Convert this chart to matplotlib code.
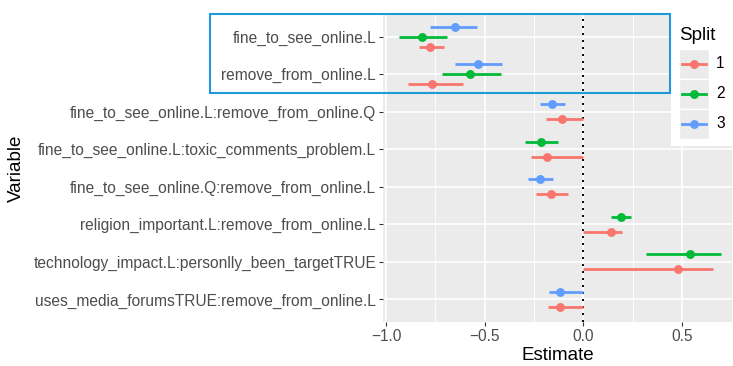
import matplotlib
matplotlib.use("Agg")
import matplotlib.pyplot as plt
from matplotlib.patches import Rectangle
from matplotlib.lines import Line2D
import numpy as np

plt.rcParams['font.family'] = ['Liberation Sans', 'DejaVu Sans']

variables = ["fine_to_see_online.L",
             "remove_from_online.L",
             "fine_to_see_online.L:remove_from_online.Q",
             "fine_to_see_online.L:toxic_comments_problem.L",
             "fine_to_see_online.Q:remove_from_online.L",
             "religion_important.L:remove_from_online.L",
             "technology_impact.L:personlly_been_targetTRUE",
             "uses_media_forumsTRUE:remove_from_online.L"]

splits = ["1", "2", "3"]
colors = {"1": "#F8766D", "2": "#00BA38", "3": "#619CFF"}

# estimate, low, high per variable (None = not present in that split)
est = {"1": [-0.777, -0.768, -0.108, -0.184, -0.162, 0.137, 0.481, -0.117],
       "2": [-0.82, -0.577, None, -0.213, None, 0.191, 0.54, None],
       "3": [-0.65, -0.536, -0.159, None, -0.218, None, None, -0.117]}
low = {"1": [-0.832, -0.887, -0.188, -0.264, -0.239, 0.0, 0.0, -0.181],
       "2": [-0.934, -0.714, None, -0.294, None, 0.137, 0.315, None],
       "3": [-0.777, -0.65, -0.218, None, -0.283, None, None, -0.173]}
high = {"1": [-0.706, -0.61, 0.0, 0.0, -0.078, 0.196, 0.658, 0.0],
        "2": [-0.69, -0.418, None, -0.13, None, 0.242, 0.695, None],
        "3": [-0.54, -0.41, -0.095, None, -0.154, None, None, 0.0]}

W, H = 733, 366
fig = plt.figure(figsize=(W / 100, H / 100), dpi=100)
ax = fig.add_axes([383 / W, 1 - 322 / H, (W - 383) / W, (322 - 14) / H])
ax.set_facecolor("#EBEBEB")
for s in ax.spines.values():
    s.set_visible(False)

n = len(variables)
ypos = np.arange(n)[::-1] + 1.0
dodge = 0.8

ax.set_xlim(-1.015, 0.757)
ax.set_ylim(0.4, n + 0.6)

# grid
for x in [-0.75, -0.25, 0.25, 0.75]:
    ax.axvline(x, color="white", lw=0.6, zorder=0)
for x in [-1.0, -0.5, 0.0, 0.5]:
    ax.axvline(x, color="white", lw=1.2, zorder=0)
for y in ypos:
    ax.axhline(y, color="white", lw=1.2, zorder=0)

ax.axvline(0, color="black", lw=1.4, ls=(0, (1, 2.6)), zorder=1)

for i, var in enumerate(variables):
    present = [s for s in splits if est[s][i] is not None]
    k = len(present)
    for j, s in enumerate(present):
        off = (j - (k - 1) / 2) * dodge / k
        y = ypos[i] + off
        ax.plot([low[s][i], high[s][i]], [y, y], color=colors[s], lw=2.0,
                solid_capstyle="butt", zorder=2)
        ax.plot(est[s][i], y, "o", color=colors[s], ms=6.4, mec="none", zorder=3)

ax.set_yticks(ypos)
ax.set_yticklabels(variables, fontsize=11.2, color="#4D4D4D")
ax.set_xticks([-1.0, -0.5, 0.0, 0.5])
ax.set_xticklabels(["\u22121.0", "\u22120.5", "0.0", "0.5"], fontsize=11.2, color="#4D4D4D")
ax.tick_params(length=3, color="#333333", width=0.8, pad=2)
ax.set_xlabel("Estimate", fontsize=13.5, labelpad=2)
ax.set_ylabel("Variable", fontsize=13.5, labelpad=6)

def fx(x):
    return x / W

def fy(y):
    return 1 - y / H

# highlight box
fig.patches.append(Rectangle((fx(210), fy(93)), fx(670) - fx(210), fy(14) - fy(93),
                             transform=fig.transFigure, fill=False,
                             edgecolor="#1F9AD6", lw=1.5, zorder=10))

# legend drawn over the panel corner
fig.patches.append(Rectangle((fx(671), fy(146)), fx(W) - fx(671), fy(0) - fy(146),
                             transform=fig.transFigure, facecolor="white",
                             edgecolor="none", zorder=5))
fig.text(fx(679), fy(36), "Split", fontsize=13.5, va="center", ha="left", zorder=11)
for j, s in enumerate(splits):
    yc = 64 + j * 30
    fig.patches.append(Rectangle((fx(679), fy(yc + 15)), fx(709) - fx(679), fy(yc - 15) - fy(yc + 15),
                                 transform=fig.transFigure, facecolor="#EBEBEB",
                                 edgecolor="white", lw=1, zorder=6))
    fig.lines.append(Line2D([fx(682), fx(706)], [fy(yc), fy(yc)], transform=fig.transFigure,
                            color=colors[s], lw=2.0, zorder=7))
    fig.lines.append(Line2D([fx(694)], [fy(yc)], transform=fig.transFigure, marker="o",
                            color=colors[s], ms=6.4, mec="none", zorder=8))
    fig.text(fx(716), fy(yc), s, fontsize=11.2, va="center", ha="left", zorder=11)

fig.savefig("out.png", dpi=100)
